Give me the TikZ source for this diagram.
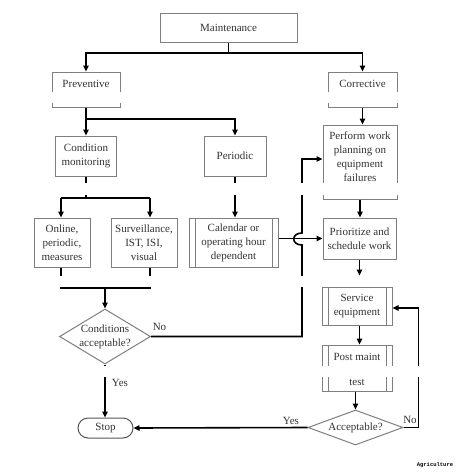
\documentclass[tikz,border=0pt]{standalone}
\usepackage{fontspec}
\setmainfont{Liberation Serif}
\newfontfamily\agrimono{Liberation Mono}
\usetikzlibrary{shapes.geometric,arrows.meta}
\definecolor{boxgray}{HTML}{7F7F7F}
\definecolor{stopgray}{HTML}{555555}
\definecolor{txtcol}{HTML}{333333}
\newcommand{\flowfont}{\fontsize{11}{14}\selectfont}
\begin{document}
\begin{tikzpicture}[x=1pt,y=-1pt,
  box/.style={draw=boxgray, line width=1pt, rectangle, inner sep=0pt, font=\flowfont, text=txtcol, align=center},
  txt/.style={inner sep=0pt, font=\flowfont, text=txtcol, align=center},
  dia/.style={diamond, draw=boxgray, line width=1pt, inner sep=0pt},
  boxline/.style={draw=boxgray, line width=1pt},
  conn/.style={line width=1.6pt, black},
  arr/.style={conn, -{Triangle[length=6pt,width=5.5pt]}},
  lbl/.style={font=\flowfont, text=txtcol, inner sep=0pt},
]
\fill[white] (0,0) rectangle (466,472);
\useasboundingbox (0,0) rectangle (466,472);

% nodes
\node[box, minimum width=137pt, minimum height=29pt] (main) at (228.5,27.5) {Maintenance};
\node[box, minimum width=68pt, minimum height=35pt] (prev) at (86,89.5) {};
\node[txt] (prevt) at (86,84) {Preventive};
\node[box, minimum width=69pt, minimum height=35pt] (corr) at (362.5,89.5) {};
\node[txt] (corrt) at (362.5,84) {Corrective};
\node[box, minimum width=61pt, minimum height=40pt] (cond) at (86,156) {Condition\\monitoring};
\node[box, minimum width=62pt, minimum height=40pt] (peri) at (235,156) {Periodic};
\node[box, minimum width=74pt, minimum height=74pt] (perf) at (360,162) {};
\node[txt] (perft) at (360,157) {Perform work\\planning on\\equipment\\failures};
\node[box, minimum width=56pt, minimum height=49pt] (onl) at (62,242.5) {Online,\\periodic,\\measures};
\node[box, minimum width=66pt, minimum height=49pt] (surv) at (144,242.5) {Surveillance,\\IST, ISI,\\visual};
\node[box, minimum width=89pt, minimum height=49pt] (cal) at (233.5,242.5) {Calendar or\\operating hour\\dependent};
\node[box, minimum width=73pt, minimum height=41pt] (prio) at (359.5,238.5) {Prioritize and\\schedule work};
\node[box, minimum width=70pt, minimum height=38pt] (serv) at (357,306) {Service\\equipment};
\node[box, minimum width=70pt, minimum height=46pt] (post) at (357,368) {};
\node[txt] (postt1) at (357,357) {Post maint};
\node[txt] (postt2) at (357,382) {test};
\node[dia, minimum width=91pt, minimum height=55pt] (cdia) at (105,336.5) {};
\node[txt] (cdiat) at (105,336.5) {Conditions\\acceptable?};
\node[dia, minimum width=95pt, minimum height=35pt] (adia) at (355.5,427.5) {};
\node[txt] (adiat) at (355.5,427.5) {Acceptable?};
\node[box, draw=stopgray, rounded corners=10pt, minimum width=55pt, minimum height=20pt] (stop) at (105.5,428) {Stop};

% predefined-process side lines
\foreach \n in {cal,serv,post}{
  \draw[boxline] ([xshift=6.5pt]\n.north west) -- ([xshift=6.5pt]\n.south west);
  \draw[boxline] ([xshift=-6.5pt]\n.north east) -- ([xshift=-6.5pt]\n.south east);
}

% connectors
\coordinate (j1) at (228.5,53);
\draw[conn] (main.south) -- (j1);
\draw[arr] (j1) -| (prev.north);
\draw[arr] (j1) -| (corr.north);
\coordinate (j2) at (86,119);
\draw[conn] (prev.south) -- (j2);
\draw[arr] (j2) -- (cond.north);
\draw[arr] (j2) -| (peri.north);
\coordinate (j3) at (86,198);
\coordinate (j3a) at (61,198);
\coordinate (j3b) at (150,198);
\draw[conn] (cond.south) -- (j3);
\draw[conn] (j3a) -- (j3b);
\draw[arr] (j3a) -- (j3a |- onl.north);
\draw[arr] (j3b) -- (j3b |- surv.north);
\coordinate (j4a) at (61,288);
\coordinate (j4b) at (150,288);
\draw[conn] (j4a |- onl.south) -- (j4a) -- (j4b) -- (j4b |- surv.south);
\draw[arr] (cdia.north |- j4a) -- (cdia.north);
\draw[arr] (cdia.south) -- (cdia.south |- stop.north);
\draw[arr] (peri.south) -- (peri.south |- cal.north);
\draw[arr] (cal.east |- prio.west) -- (prio.west);
\coordinate (v) at (302,0);
\coordinate (hb) at (302,245);
\coordinate (ht) at (302,233);
\draw[arr] (cdia.east) -- (cdia.east -| v) -- (hb)
  .. controls (291,245) and (291,233) .. (ht)
  -- (302,159) -- ([yshift=3pt]perf.west);
\draw[arr] (corr.south) -- (corr.south |- perf.north);
\draw[arr] (perf.south) -- (perf.south |- prio.north);
\draw[arr, shorten >=11pt] (prio.south) -- (prio.south |- serv.north);
\draw[arr] (prio.south |- serv.south) -- (prio.south |- post.north);
\draw[arr] (adia.north |- post.south) -- (adia.north);
\draw[arr] (adia.west) -- (stop.east);
\draw[arr] (adia.east) -- ++(15,0) |- ([yshift=-2pt]serv.east);

% gaps of the original rendering
\fill[white] (0,92) rectangle (466,103);
\fill[white] (0,183) rectangle (466,195);
\fill[white] (0,276) rectangle (466,286.5);
\fill[white] (0,366) rectangle (466,377);

% labels
\node[lbl] (no1) at (159.5,327) {No};
\node[lbl] (yes1) at (120,383) {Yes};
\node[lbl] (yes2) at (291,421) {Yes};
\node[lbl] (no2) at (410,420) {No};
\node[inner sep=0pt, font=\agrimono\bfseries\fontsize{5.5}{6}\selectfont] (agri) at (435,465) {Agriculture};
\end{tikzpicture}
\end{document}
